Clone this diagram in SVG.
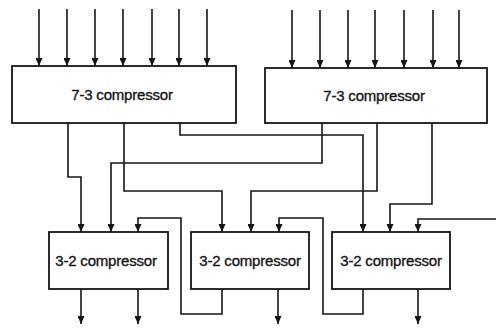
<svg xmlns="http://www.w3.org/2000/svg" width="496" height="330" viewBox="0 0 496 330">
<style>
.box{fill:#fff;stroke:#161616;stroke-width:1.8}
.t{font-family:"Liberation Sans",Arial,sans-serif;font-size:15px;fill:#161616;stroke:#161616;stroke-width:0.35;text-anchor:middle;letter-spacing:-0.2px}
.w{fill:none;stroke:#161616;stroke-width:1.6}
.a{marker-end:url(#ah)}
</style>
<defs>
<marker id="ah" markerUnits="userSpaceOnUse" markerWidth="8" markerHeight="7" refX="8" refY="3.5" orient="auto">
<path d="M0,0 L8,3.5 L0,7 z" fill="#161616"/>
</marker>
</defs>
<rect width="496" height="330" fill="#fff"/>
<g id="connectors">
<path class="w a" d="M39,9V66"/>
<path class="w a" d="M67,9V66"/>
<path class="w a" d="M95,9V66"/>
<path class="w a" d="M123,9V66"/>
<path class="w a" d="M152,9V66"/>
<path class="w a" d="M179,9V66"/>
<path class="w a" d="M207,9V66"/>
<path class="w a" d="M292,10V68"/>
<path class="w a" d="M320,10V68"/>
<path class="w a" d="M348,10V68"/>
<path class="w a" d="M375,10V68"/>
<path class="w a" d="M404,10V68"/>
<path class="w a" d="M433,10V68"/>
<path class="w a" d="M459,10V68"/>
<path class="w a" d="M68,123V177H81V232"/>
<path class="w a" d="M124,123V191H222V232"/>
<path class="w a" d="M180,123V135H363V232"/>
<path class="w a" d="M322,123V163H111V232"/>
<path class="w a" d="M377,123V191H251V232"/>
<path class="w a" d="M432,123V204H390V232"/>
<path class="w a" d="M496,219H418V232"/>
<path class="w a" d="M222,289V314H181V218H138V232"/>
<path class="w a" d="M363,289V314H323V218H279V232"/>
<path class="w a" d="M81,289V324"/>
<path class="w a" d="M138,289V324"/>
<path class="w a" d="M278,289V324"/>
<path class="w a" d="M418,289V324"/>
</g>
<g id="c73a"><rect class="box" x="12" y="66" width="224" height="57"/><text class="t" x="122" y="100">7-3 compressor</text></g>
<g id="c73b"><rect class="box" x="265" y="68" width="222" height="55"/><text class="t" x="374" y="101">7-3 compressor</text></g>
<g id="c32a"><rect class="box" x="49" y="232" width="119" height="57"/><text class="t" x="106" y="266">3-2 compressor</text></g>
<g id="c32b"><rect class="box" x="191" y="232" width="118" height="57"/><text class="t" x="250" y="266">3-2 compressor</text></g>
<g id="c32c"><rect class="box" x="332" y="232" width="118" height="57"/><text class="t" x="391" y="266">3-2 compressor</text></g>
</svg>
